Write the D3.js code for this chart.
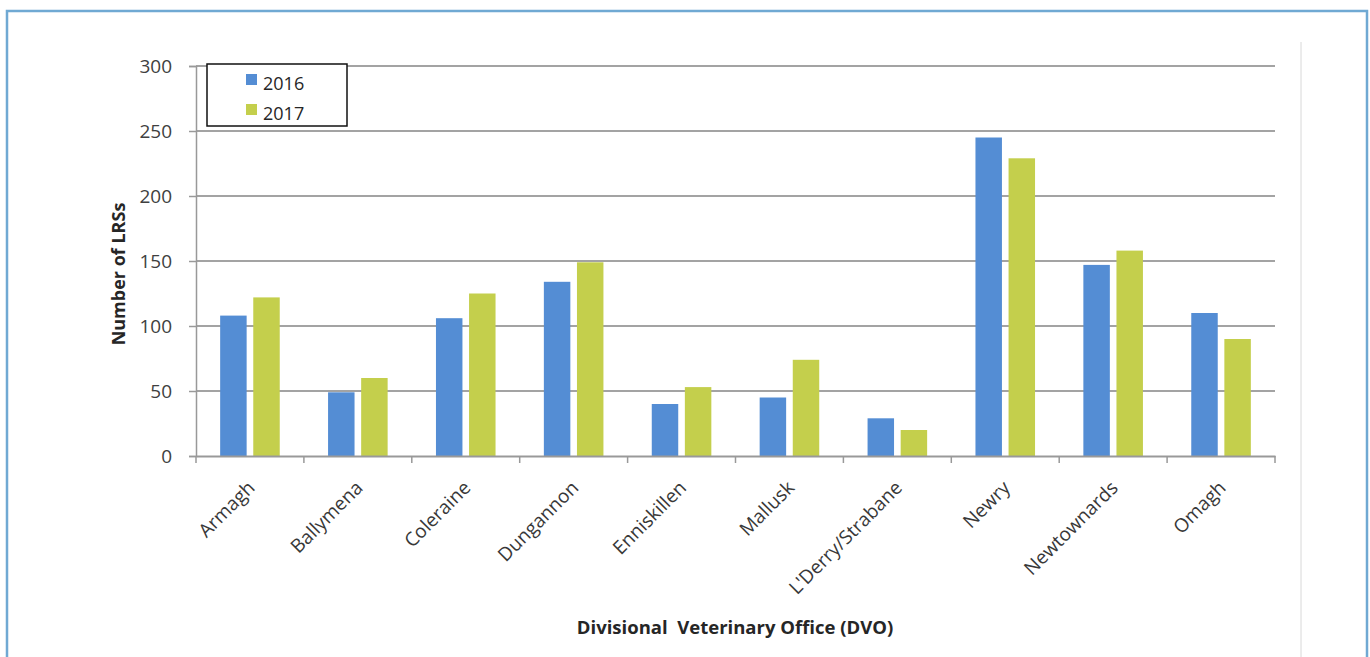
<!DOCTYPE html>
<html>
<head>
<meta charset="utf-8">
<script src="https://cdn.jsdelivr.net/npm/d3@7"></script>
<style>
  html, body { margin: 0; padding: 0; background: #fff; }
  svg { display: block; }
  text { font-family: "Open Sans", "DejaVu Sans", sans-serif; }
</style>
</head>
<body>
<svg id="chart" width="1370" height="657"></svg>
<script>
// Divisional Veterinary Offices and the number of LRSs per year
const offices = ["Armagh", "Ballymena", "Coleraine", "Dungannon", "Enniskillen",
                 "Mallusk", "L'Derry/Strabane", "Newry", "Newtownards", "Omagh"];
const years = ["2016", "2017"];
const values2016 = [108, 49, 106, 134, 40, 45, 29, 245, 147, 110];
const values2017 = [122, 60, 125, 149, 53, 74, 20, 229, 158, 90];
const yTicks = [0, 50, 100, 150, 200, 250, 300];
const colors = ["#548dd4", "#c4cf4c"];

const series = [values2016, values2017];

const svg = d3.select("#chart");
const W = 1370, H = 657;

// frame around the figure
svg.append("rect")
  .attr("x", 7).attr("y", 11)
  .attr("width", 1360).attr("height", 660)
  .attr("fill", "none")
  .attr("stroke", "#70a9d3")
  .attr("stroke-width", 2.5);

// faint divider on the right
svg.append("line")
  .attr("x1", 1301).attr("x2", 1301)
  .attr("y1", 42).attr("y2", H)
  .attr("stroke", "#d8d8d8").attr("stroke-width", 1);

const plot = { left: 196, right: 1275, top: 66, bottom: 456 };

const x = d3.scaleBand()
  .domain(offices)
  .range([plot.left, plot.right])
  .paddingInner(0).paddingOuter(0);

const xSub = d3.scaleBand()
  .domain(years)
  .range([0, x.bandwidth()])
  .paddingInner(0.2)
  .paddingOuter(0.73);

const y = d3.scaleLinear()
  .domain([0, 300])
  .range([plot.bottom, plot.top]);

// horizontal gridlines
svg.append("g")
  .selectAll("line")
  .data(yTicks.filter(d => d > 0))
  .join("line")
  .attr("x1", plot.left).attr("x2", plot.right)
  .attr("y1", d => y(d)).attr("y2", d => y(d))
  .attr("stroke", "#a3a3a3").attr("stroke-width", 2);

// y axis
const yAxis = svg.append("g")
  .attr("transform", `translate(${plot.left},0)`)
  .call(d3.axisLeft(y).tickValues(yTicks).tickSize(7).tickPadding(17));
yAxis.select(".domain").attr("stroke", "#999").attr("stroke-width", 1.5);
yAxis.selectAll(".tick line").attr("stroke", "#999").attr("stroke-width", 1.5);
yAxis.selectAll(".tick text")
  .attr("fill", "#404040")
  .style("font-size", "19px")
  .style("font-family", "'Open Sans', sans-serif");

// bars
const groups = svg.append("g")
  .selectAll("g")
  .data(offices)
  .join("g")
  .attr("transform", d => `translate(${x(d)},0)`);

groups.selectAll("rect")
  .data((d, i) => years.map((yr, k) => ({ yr, k, v: series[k][i] })))
  .join("rect")
  .attr("x", d => xSub(d.yr))
  .attr("width", xSub.bandwidth())
  .attr("y", d => y(d.v))
  .attr("height", d => y(0) - y(d.v))
  .attr("fill", d => colors[d.k]);

// x axis
const xAxis = svg.append("g")
  .attr("transform", `translate(0,${plot.bottom})`)
  .call(d3.axisBottom(x).tickSize(0).tickFormat(""));
xAxis.select(".domain").attr("stroke", "#999").attr("stroke-width", 2);

// category boundary ticks
const bounds = offices.map(d => x(d)).concat([plot.right]);
svg.append("g")
  .selectAll("line")
  .data(bounds)
  .join("line")
  .attr("x1", d => d).attr("x2", d => d)
  .attr("y1", plot.bottom).attr("y2", plot.bottom + 7)
  .attr("stroke", "#999").attr("stroke-width", 1.5);

// rotated category labels
svg.append("g")
  .selectAll("text")
  .data(offices)
  .join("text")
  .attr("transform", d => `translate(${x(d) + x.bandwidth() / 2 + 6},${plot.bottom + 33}) rotate(-45)`)
  .attr("text-anchor", "end")
  .attr("fill", "#383838")
  .style("font-size", "19px")
  .text(d => d);

// axis titles
svg.append("text")
  .attr("transform", `translate(125,${(plot.top + plot.bottom) / 2 + 13}) rotate(-90)`)
  .attr("text-anchor", "middle")
  .attr("fill", "#262626")
  .style("font-size", "18px")
  .style("font-weight", "bold")
  .text("Number of LRSs");

svg.append("text")
  .attr("x", 735).attr("y", 634)
  .attr("text-anchor", "middle")
  .attr("fill", "#262626")
  .style("font-size", "18.5px")
  .style("font-weight", "bold")
  .style("white-space", "pre")
  .text("Divisional  Veterinary Office (DVO)");

// legend
const legend = svg.append("g");
legend.append("rect")
  .attr("x", 207).attr("y", 64)
  .attr("width", 140).attr("height", 62)
  .attr("fill", "#fff")
  .attr("stroke", "#111").attr("stroke-width", 1.5);
years.forEach((yr, k) => {
  legend.append("rect")
    .attr("x", 246).attr("y", 74 + k * 30)
    .attr("width", 11).attr("height", 11)
    .attr("fill", colors[k]);
  legend.append("text")
    .attr("x", 263).attr("y", 90 + k * 30)
    .attr("fill", "#262626")
    .style("font-size", "18px")
    .text(yr);
});
</script>
</body>
</html>
